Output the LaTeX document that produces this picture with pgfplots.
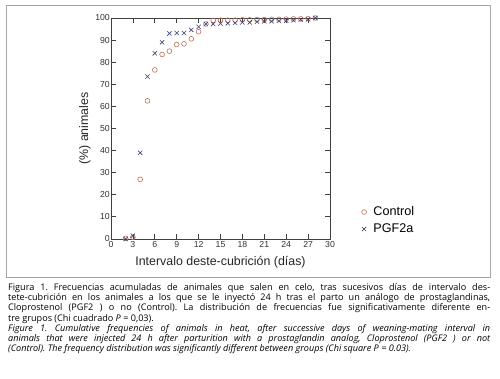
\documentclass[border=0pt]{standalone}
\usepackage{pgfplots}
\pgfplotsset{compat=1.18}
\usepackage{fontspec}
\setmainfont{Liberation Sans}
\newfontfamily\capfont{Open Sans}
\definecolor{ctrl}{RGB}{192,112,92}
\definecolor{pgf}{RGB}{58,62,112}
\pgfplotstableread{
x y
2 0.3
3 0.8
4 27
5 62.5
6 76.5
7 83.5
8 85
9 88
10 88.3
11 90.6
12 93.8
13 97.3
14 98.9
15 99
16 99
17 99
18 99.2
19 99.2
20 99.3
21 99.3
22 99.4
23 99.4
24 99.5
25 99.6
26 99.6
27 99.7
28 100
}\control
\pgfplotstableread{
x y
2 0
3 1.5
4 39
5 73.5
6 84
7 89
8 93
9 93.2
10 93.2
11 94.6
12 96
13 97.3
14 97.3
15 97.5
16 97.6
17 97.8
18 98
19 98
20 98.3
21 98.5
22 98.5
23 98.7
24 98.8
25 99
26 99.2
27 99.4
28 100
}\pgftwo
\begin{document}
\frenchspacing
\begin{tikzpicture}[x=1pt,y=1pt]
\path[fill=white] (0,0) rectangle (500,379);
\draw[gray!70, line width=0.8pt] (6,102) rectangle (490,374);
\begin{axis}[
  scale only axis, width=219pt, height=221pt,
  at={(111pt,140pt)}, anchor=south west,
  xmin=0, xmax=30, ymin=0, ymax=100,
  xtick={0,3,...,30}, ytick={0,10,...,100},
  tick align=inside, major tick length=5pt,
  axis line style={black!75, line width=0.8pt},
  tick style={black!75, line width=0.8pt},
  tick label style={font=\fontsize{8.7}{10}\selectfont, text=black!80},
  /pgf/number format/assume math mode=true,
  yticklabel style={inner sep=1pt},
  xticklabel style={inner sep=2pt},
  xlabel={Intervalo deste-cubrición (días)},
  ylabel={(\%) animales},
  label style={font=\fontsize{12.4}{14}\selectfont, text=black!85},
  xlabel style={at={(axis description cs:0.5,-0.104)}, anchor=center},
  ylabel style={at={(axis description cs:-0.119,0.5)}, anchor=center},
  legend style={draw=none, fill=none, at={(1.13,0.165)}, anchor=north west,
    font=\fontsize{12.6}{14}\selectfont, row sep=2.5pt, nodes={inner xsep=7pt}},
  legend cell align=left,
]
\addplot[only marks, mark=o, mark size=2.4pt, draw=ctrl, line width=0.6pt] table {\control};
\addlegendentry{Control}
\addplot[only marks, mark=x, mark size=3pt, draw=pgf, line width=0.6pt] table {\pgftwo};
\addlegendentry{PGF2a}
\end{axis}
\node[anchor=north west, inner sep=0pt, text width=482pt, align=justify,
  font=\capfont\fontsize{9.1}{10.3}\selectfont] at (8,96) {%
Figura 1. Frecuencias acumuladas de animales que salen en celo, tras sucesivos días de intervalo des-\linebreak
tete-cubrición en los animales a los que se le inyectó 24 h tras el parto un análogo de prostaglandinas,\linebreak
Cloprostenol (PGF2 ) o no (Control). La distribución de frecuencias fue significativamente diferente en-\linebreak
tre grupos (Chi cuadrado \textit{P} = 0,03).\newline
\itshape Figure 1. Cumulative frequencies of animals in heat, after successive days of weaning-mating interval in\linebreak
animals that were injected 24 h after parturition with a prostaglandin analog, Cloprostenol (PGF2 ) or not\linebreak
(Control). The frequency distribution was significantly different between groups (Chi square P = 0.03).};
\end{tikzpicture}
\end{document}
